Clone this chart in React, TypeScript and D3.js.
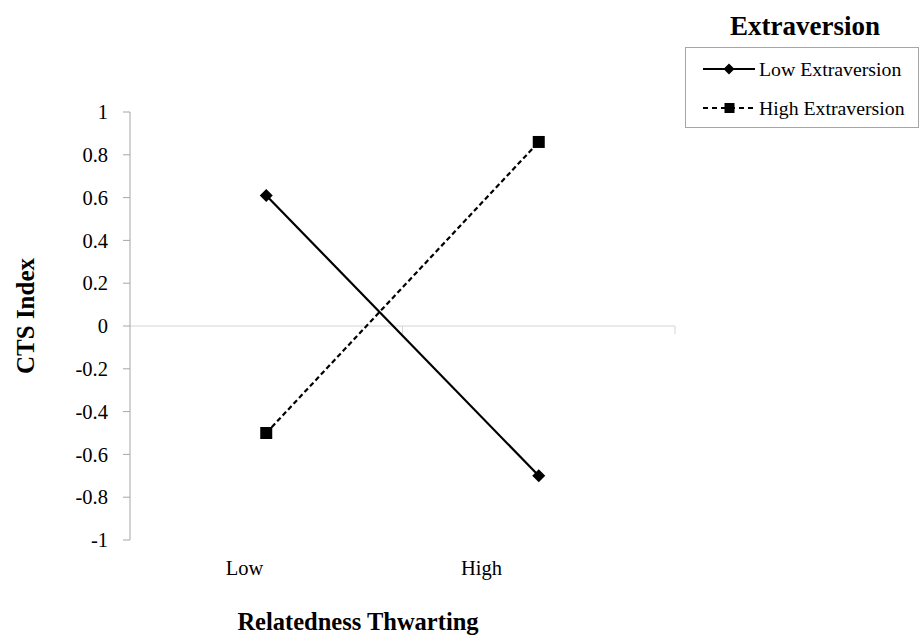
import React from "react";
import * as d3 from "d3";

const categories = ["Low", "High"];
const seriesNames = ["Low Extraversion", "High Extraversion"];
const lowExtraversion = [0.61, -0.7];
const highExtraversion = [-0.5, 0.86];
const yTicks = [1, 0.8, 0.6, 0.4, 0.2, 0, -0.2, -0.4, -0.6, -0.8, -1];

const W = 921;
const H = 642;
const font = "'Liberation Serif', 'Times New Roman', serif";

export default function App() {
  const x = d3.scaleBand<string>().domain(categories).range([130, 675]);
  const xLabel = d3.scaleBand<string>().domain(categories).range([126, 600]);
  const y = d3.scaleLinear().domain([-1, 1]).range([540, 112]);
  const line = d3
    .line<number>()
    .x((_, i) => (x(categories[i]) as number) + x.bandwidth() / 2)
    .y((d) => y(d));

  const diamond = (cx: number, cy: number, r: number) =>
    `M${cx},${cy - r}L${cx + r},${cy}L${cx},${cy + r}L${cx - r},${cy}Z`;

  const series = [
    { name: seriesNames[0], values: lowExtraversion, dash: undefined, marker: "diamond" },
    { name: seriesNames[1], values: highExtraversion, dash: "5,3", marker: "square" },
  ];

  const gridStops = [...categories.map((c) => x(c) as number), 675].slice(1);

  return (
    <svg width={W} height={H} style={{ position: "absolute", left: 0, top: 0 }} fontFamily={font}>
      <rect width={W} height={H} fill="#fff" />
      {/* zero axis */}
      <line x1={130} x2={675} y1={y(0)} y2={y(0)} stroke="#d4d4d4" strokeWidth={1} />
      {gridStops.map((gx, i) => (
        <line key={i} x1={gx} x2={gx} y1={y(0)} y2={y(0) + 8} stroke="#d4d4d4" strokeWidth={1} />
      ))}
      {/* y axis */}
      <line x1={130} x2={130} y1={y(1)} y2={y(-1)} stroke="#a6a6a6" strokeWidth={1} />
      {yTicks.map((t) => (
        <g key={t}>
          <line x1={123} x2={130} y1={y(t)} y2={y(t)} stroke="#a6a6a6" strokeWidth={1} />
          <text x={108} y={y(t)} dy="0.35em" textAnchor="end" fontSize={20.5} fill="#000">
            {String(t)}
          </text>
        </g>
      ))}
      {/* category labels */}
      {categories.map((c) => (
        <text
          key={c}
          x={(xLabel(c) as number) + xLabel.bandwidth() / 2}
          y={575}
          textAnchor="middle"
          fontSize={20.5}
          fill="#000"
        >
          {c}
        </text>
      ))}
      <text x={358} y={630} textAnchor="middle" fontSize={24.5} fontWeight="bold">
        Relatedness Thwarting
      </text>
      <text
        transform={`translate(34,316) rotate(-90)`}
        textAnchor="middle"
        fontSize={25}
        fontWeight="bold"
      >
        CTS Index
      </text>
      {/* series */}
      {series.map((s) => (
        <g key={s.name}>
          <path d={line(s.values) as string} fill="none" stroke="#000" strokeWidth={2.2} strokeDasharray={s.dash} />
          {s.values.map((v, i) => {
            const cx = (x(categories[i]) as number) + x.bandwidth() / 2;
            const cy = y(v);
            return s.marker === "diamond" ? (
              <path key={i} d={diamond(cx, cy, 6.5)} fill="#000" />
            ) : (
              <rect key={i} x={cx - 6} y={cy - 6} width={12} height={12} fill="#000" />
            );
          })}
        </g>
      ))}
      {/* legend */}
      <text x={805} y={35} textAnchor="middle" fontSize={27} fontWeight="bold">
        Extraversion
      </text>
      <rect x={685.5} y={47.5} width={233} height={80} fill="none" stroke="#a6a6a6" strokeWidth={1} />
      {series.map((s, i) => {
        const ly = 69 + i * 39;
        return (
          <g key={s.name}>
            <line x1={703} x2={755} y1={ly} y2={ly} stroke="#000" strokeWidth={2} strokeDasharray={s.dash ? "5,4" : undefined} />
            {s.marker === "diamond" ? (
              <path d={diamond(729, ly, 5.5)} fill="#000" />
            ) : (
              <rect x={724.5} y={ly - 5} width={10} height={10} fill="#000" />
            )}
            <text x={759} y={ly} dy="0.33em" fontSize={19.8} fill="#000">
              {s.name}
            </text>
          </g>
        );
      })}
    </svg>
  );
}
